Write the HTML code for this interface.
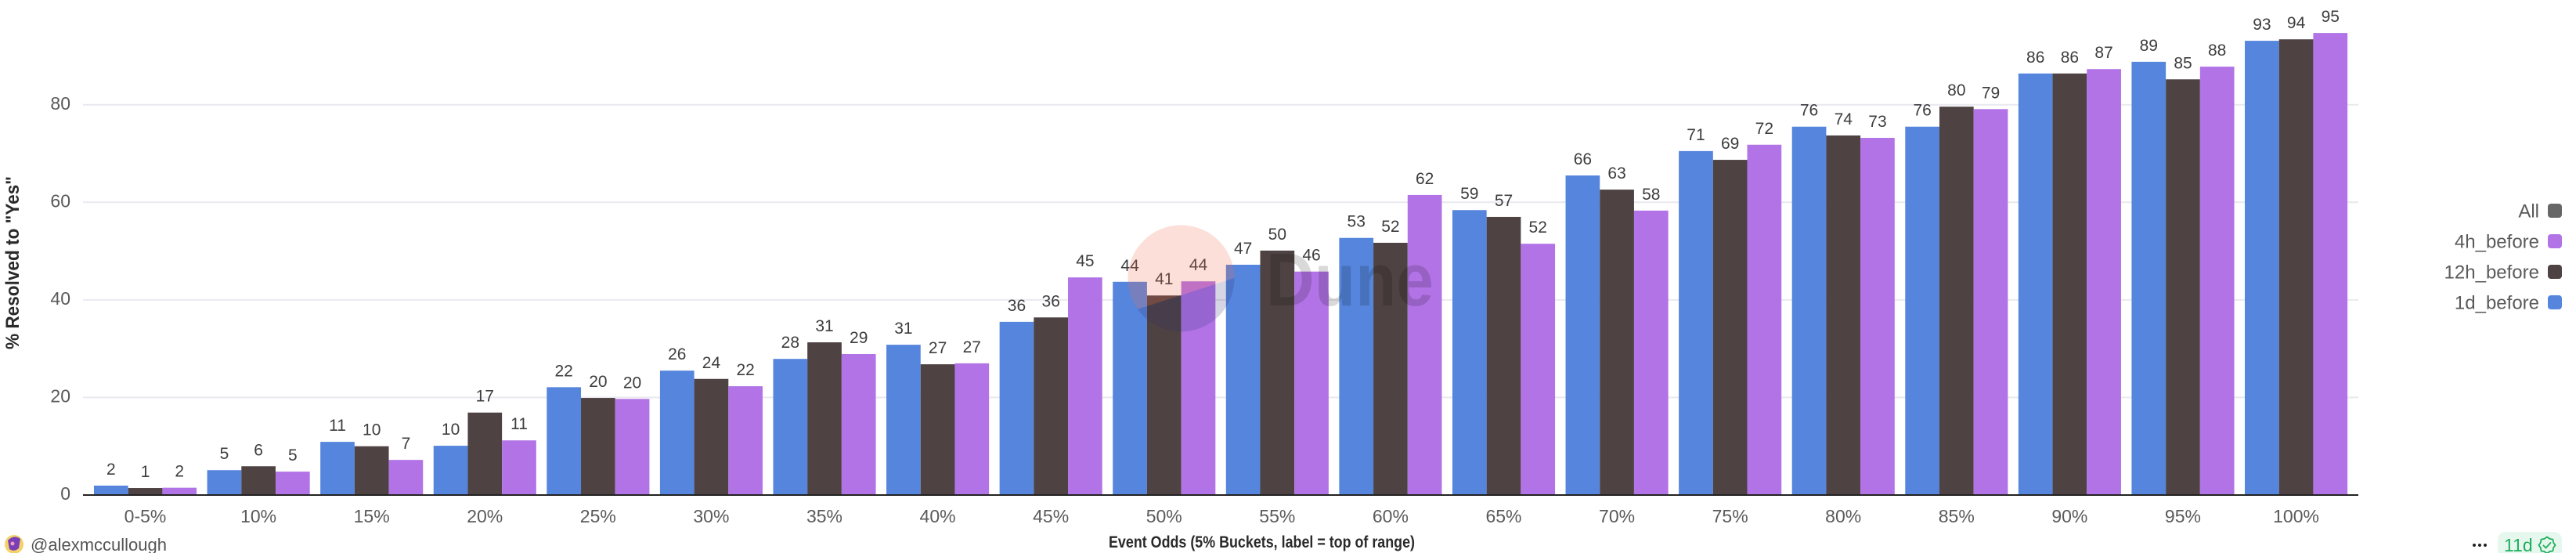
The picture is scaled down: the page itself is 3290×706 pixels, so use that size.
<!DOCTYPE html>
<html><head><meta charset="utf-8"><style>
html,body{margin:0;padding:0;background:#fff;}
svg{display:block;}
text{font-family:"Liberation Sans",sans-serif;}
.b{fill:#5585dd}.d{fill:#4f4242}.p{fill:#b273e6}
.l{font-size:21px;fill:#3d3d3d;text-anchor:middle}
.xt{font-size:23px;fill:#5a5a5a;text-anchor:middle}
.yt{font-size:23px;fill:#5a5a5a;text-anchor:end}
.lg{font-size:24px;fill:#5a5a5a;text-anchor:end}
.g{stroke:#e9e9ef;stroke-width:2}
</style></head><body>
<svg width="3290" height="706" viewBox="0 0 3290 706" xmlns="http://www.w3.org/2000/svg">
<rect width="3290" height="706" fill="#fff"/>
<!-- gridlines -->
<line class="g" x1="106" y1="133.7" x2="3012" y2="133.7"/>
<line class="g" x1="106" y1="258.3" x2="3012" y2="258.3"/>
<line class="g" x1="106" y1="382.9" x2="3012" y2="382.9"/>
<line class="g" x1="106" y1="507.4" x2="3012" y2="507.4"/>
<!-- y ticks -->
<text class="yt" x="90" y="140">80</text>
<text class="yt" x="90" y="264.5">60</text>
<text class="yt" x="90" y="389">40</text>
<text class="yt" x="90" y="513.5">20</text>
<text class="yt" x="90" y="638">0</text>
<!-- y title -->
<text x="24" y="335.5" transform="rotate(-90 24 335.5)" text-anchor="middle" font-size="24" font-weight="bold" fill="#2a2a2a" textLength="221" lengthAdjust="spacingAndGlyphs">% Resolved to "Yes"</text>

<!-- bars -->
<g transform="translate(185.5,0)">
<rect class="b" x="-65.5" y="619.98" width="43.7" height="12.02"/><rect class="d" x="-21.8" y="623.03" width="43.7" height="8.97"/><rect class="p" x="21.9" y="622.66" width="43.7" height="9.34"/>
<text class="l" x="-43.65" y="606">2</text><text class="l" x="0.05" y="609">1</text><text class="l" x="43.75" y="608.7">2</text>
<text class="xt" x="0" y="667">0-5%</text></g>

<g transform="translate(330.08,0)">
<rect class="b" x="-65.5" y="600.23" width="43.7" height="31.77"/><rect class="d" x="-21.8" y="595.25" width="43.7" height="36.75"/><rect class="p" x="21.9" y="602.1" width="43.7" height="29.9"/>
<text class="l" x="-43.65" y="586.2">5</text><text class="l" x="0.05" y="581.3">6</text><text class="l" x="43.75" y="588.1">5</text>
<text class="xt" x="0" y="667">10%</text></g>

<g transform="translate(474.66,0)">
<rect class="b" x="-65.5" y="564.1" width="43.7" height="67.9"/><rect class="d" x="-21.8" y="569.71" width="43.7" height="62.29"/><rect class="p" x="21.9" y="587.15" width="43.7" height="44.85"/>
<text class="l" x="-43.65" y="550.1">11</text><text class="l" x="0.05" y="555.7">10</text><text class="l" x="43.75" y="573.2">7</text>
<text class="xt" x="0" y="667">15%</text></g>

<g transform="translate(619.24,0)">
<rect class="b" x="-65.5" y="569.09" width="43.7" height="62.91"/><rect class="d" x="-21.8" y="526.73" width="43.7" height="105.27"/><rect class="p" x="21.9" y="562.24" width="43.7" height="69.76"/>
<text class="l" x="-43.65" y="555.1">10</text><text class="l" x="0.05" y="512.7">17</text><text class="l" x="43.75" y="548.2">11</text>
<text class="xt" x="0" y="667">20%</text></g>

<g transform="translate(763.82,0)">
<rect class="b" x="-65.5" y="494.34" width="43.7" height="137.66"/><rect class="d" x="-21.8" y="508.04" width="43.7" height="123.96"/><rect class="p" x="21.9" y="509.29" width="43.7" height="122.71"/>
<text class="l" x="-43.65" y="480.3">22</text><text class="l" x="0.05" y="494">20</text><text class="l" x="43.75" y="495.3">20</text>
<text class="xt" x="0" y="667">25%</text></g>

<g transform="translate(908.4,0)">
<rect class="b" x="-65.5" y="473.16" width="43.7" height="158.84"/><rect class="d" x="-21.8" y="483.75" width="43.7" height="148.25"/><rect class="p" x="21.9" y="493.09" width="43.7" height="138.91"/>
<text class="l" x="-43.65" y="459.2">26</text><text class="l" x="0.05" y="469.8">24</text><text class="l" x="43.75" y="479.1">22</text>
<text class="xt" x="0" y="667">30%</text></g>

<g transform="translate(1052.98,0)">
<rect class="b" x="-65.5" y="458.21" width="43.7" height="173.79"/><rect class="d" x="-21.8" y="437.03" width="43.7" height="194.97"/><rect class="p" x="21.9" y="451.98" width="43.7" height="180.02"/>
<text class="l" x="-43.65" y="444.2">28</text><text class="l" x="0.05" y="423">31</text><text class="l" x="43.75" y="438">29</text>
<text class="xt" x="0" y="667">35%</text></g>

<g transform="translate(1197.56,0)">
<rect class="b" x="-65.5" y="440.15" width="43.7" height="191.85"/><rect class="d" x="-21.8" y="465.06" width="43.7" height="166.94"/><rect class="p" x="21.9" y="463.82" width="43.7" height="168.18"/>
<text class="l" x="-43.65" y="426.2">31</text><text class="l" x="0.05" y="451.1">27</text><text class="l" x="43.75" y="449.8">27</text>
<text class="xt" x="0" y="667">40%</text></g>

<g transform="translate(1342.14,0)">
<rect class="b" x="-65.5" y="410.87" width="43.7" height="221.13"/><rect class="d" x="-21.8" y="405.26" width="43.7" height="226.74"/><rect class="p" x="21.9" y="354.19" width="43.7" height="277.81"/>
<text class="l" x="-43.65" y="396.9">36</text><text class="l" x="0.05" y="391.3">36</text><text class="l" x="43.75" y="340.2">45</text>
<text class="xt" x="0" y="667">45%</text></g>

<g transform="translate(1486.72,0)">
<rect class="b" x="-65.5" y="359.79" width="43.7" height="272.21"/><rect class="d" x="-21.8" y="377.23" width="43.7" height="254.77"/><rect class="p" x="21.9" y="359.17" width="43.7" height="272.83"/>
<text class="l" x="-43.65" y="345.8">44</text><text class="l" x="0.05" y="363.2">41</text><text class="l" x="43.75" y="345.2">44</text>
<text class="xt" x="0" y="667">50%</text></g>

<g transform="translate(1631.3,0)">
<rect class="b" x="-65.5" y="337.99" width="43.7" height="294.01"/><rect class="d" x="-21.8" y="319.93" width="43.7" height="312.07"/><rect class="p" x="21.9" y="346.71" width="43.7" height="285.29"/>
<text class="l" x="-43.65" y="324">47</text><text class="l" x="0.05" y="305.9">50</text><text class="l" x="43.75" y="332.7">46</text>
<text class="xt" x="0" y="667">55%</text></g>

<g transform="translate(1775.88,0)">
<rect class="b" x="-65.5" y="303.73" width="43.7" height="328.27"/><rect class="d" x="-21.8" y="309.96" width="43.7" height="322.04"/><rect class="p" x="21.9" y="248.92" width="43.7" height="383.08"/>
<text class="l" x="-43.65" y="289.7">53</text><text class="l" x="0.05" y="296">52</text><text class="l" x="43.75" y="234.9">62</text>
<text class="xt" x="0" y="667">60%</text></g>

<g transform="translate(1920.46,0)">
<rect class="b" x="-65.5" y="268.23" width="43.7" height="363.77"/><rect class="d" x="-21.8" y="276.95" width="43.7" height="355.05"/><rect class="p" x="21.9" y="311.21" width="43.7" height="320.79"/>
<text class="l" x="-43.65" y="254.2">59</text><text class="l" x="0.05" y="263">57</text><text class="l" x="43.75" y="297.2">52</text>
<text class="xt" x="0" y="667">65%</text></g>

<g transform="translate(2065.04,0)">
<rect class="b" x="-65.5" y="224" width="43.7" height="408"/><rect class="d" x="-21.8" y="242.06" width="43.7" height="389.94"/><rect class="p" x="21.9" y="268.85" width="43.7" height="363.15"/>
<text class="l" x="-43.65" y="210">66</text><text class="l" x="0.05" y="228.1">63</text><text class="l" x="43.75" y="254.9">58</text>
<text class="xt" x="0" y="667">70%</text></g>

<g transform="translate(2209.62,0)">
<rect class="b" x="-65.5" y="192.86" width="43.7" height="439.14"/><rect class="d" x="-21.8" y="204.07" width="43.7" height="427.93"/><rect class="p" x="21.9" y="184.76" width="43.7" height="447.24"/>
<text class="l" x="-43.65" y="178.9">71</text><text class="l" x="0.05" y="190.1">69</text><text class="l" x="43.75" y="170.8">72</text>
<text class="xt" x="0" y="667">75%</text></g>

<g transform="translate(2354.2,0)">
<rect class="b" x="-65.5" y="161.71" width="43.7" height="470.29"/><rect class="d" x="-21.8" y="172.92" width="43.7" height="459.08"/><rect class="p" x="21.9" y="176.04" width="43.7" height="455.96"/>
<text class="l" x="-43.65" y="147.7">76</text><text class="l" x="0.05" y="158.9">74</text><text class="l" x="43.75" y="162">73</text>
<text class="xt" x="0" y="667">80%</text></g>

<g transform="translate(2498.78,0)">
<rect class="b" x="-65.5" y="161.71" width="43.7" height="470.29"/><rect class="d" x="-21.8" y="136.17" width="43.7" height="495.83"/><rect class="p" x="21.9" y="139.29" width="43.7" height="492.71"/>
<text class="l" x="-43.65" y="147.7">76</text><text class="l" x="0.05" y="122.2">80</text><text class="l" x="43.75" y="125.3">79</text>
<text class="xt" x="0" y="667">85%</text></g>

<g transform="translate(2643.36,0)">
<rect class="b" x="-65.5" y="93.81" width="43.7" height="538.19"/><rect class="d" x="-21.8" y="93.81" width="43.7" height="538.19"/><rect class="p" x="21.9" y="88.21" width="43.7" height="543.79"/>
<text class="l" x="-43.65" y="79.8">86</text><text class="l" x="0.05" y="79.8">86</text><text class="l" x="43.75" y="74.2">87</text>
<text class="xt" x="0" y="667">90%</text></g>

<g transform="translate(2787.94,0)">
<rect class="b" x="-65.5" y="78.86" width="43.7" height="553.14"/><rect class="d" x="-21.8" y="101.29" width="43.7" height="530.71"/><rect class="p" x="21.9" y="85.09" width="43.7" height="546.91"/>
<text class="l" x="-43.65" y="64.9">89</text><text class="l" x="0.05" y="87.3">85</text><text class="l" x="43.75" y="71.1">88</text>
<text class="xt" x="0" y="667">95%</text></g>

<g transform="translate(2932.52,0)">
<rect class="b" x="-65.5" y="52.08" width="43.7" height="579.92"/><rect class="d" x="-21.8" y="50.21" width="43.7" height="581.79"/><rect class="p" x="21.9" y="42.11" width="43.7" height="589.89"/>
<text class="l" x="-43.65" y="38.1">93</text><text class="l" x="0.05" y="36.2">94</text><text class="l" x="43.75" y="28.1">95</text>
<text class="xt" x="0" y="667">100%</text></g>

<!-- axis line -->
<line x1="106" y1="632" x2="3012" y2="632" stroke="#222" stroke-width="2"/>

<!-- watermark -->
<path d="M1453 394.7 A68 68 0 1 1 1576.5 355 Z" fill="rgba(241,110,78,0.22)"/>
<path d="M1453 394.7 A68 68 0 0 0 1576.5 355 Z" fill="rgba(45,45,115,0.2)"/>
<text x="1617" y="390" font-size="96" font-weight="bold" fill="rgba(0,0,0,0.15)" textLength="214" lengthAdjust="spacingAndGlyphs">Dune</text>

<!-- x title -->
<text x="1416" y="699" font-size="21" font-weight="bold" fill="#2a2a2a" textLength="391" lengthAdjust="spacingAndGlyphs">Event Odds (5% Buckets, label = top of range)</text>

<!-- legend -->
<text class="lg" x="3243" y="277.5">All</text>
<rect x="3254" y="260" width="18" height="18" rx="4" fill="#676767"/>
<text class="lg" x="3243" y="316.5">4h_before</text>
<rect x="3254" y="299" width="18" height="18" rx="4" class="p"/>
<text class="lg" x="3243" y="355.5">12h_before</text>
<rect x="3254" y="338" width="18" height="18" rx="4" class="d"/>
<text class="lg" x="3243" y="394.5">1d_before</text>
<rect x="3254" y="377" width="18" height="18" rx="4" class="b"/>

<!-- footer left -->
<circle cx="18" cy="695" r="12" fill="#f3d26a"/>
<path d="M10 690 Q18 682 26 688 L24 700 Q18 705 12 701 Z" fill="#7a3fb8"/>
<circle cx="16" cy="694" r="2.5" fill="#f0a0b8"/>
<text x="39" y="703" font-size="22" fill="#555">@alexmccullough</text>

<!-- footer right -->
<circle cx="3160" cy="696" r="2" fill="#222"/>
<circle cx="3167" cy="696" r="2" fill="#222"/>
<circle cx="3174" cy="696" r="2" fill="#222"/>
<rect x="3190" y="679" width="82" height="34" rx="10" fill="#e6f8ee"/>
<text x="3198" y="704" font-size="23" fill="#1fae5c">11d</text>
<polygon points="3263.5,696 3261.13,699.37 3260.42,703.42 3256.37,704.13 3253,706.5 3249.63,704.13 3245.58,703.42 3244.87,699.37 3242.5,696 3244.87,692.63 3245.58,688.58 3249.63,687.87 3253,685.5 3256.37,687.87 3260.42,688.58 3261.13,692.63" fill="none" stroke="#1fae5c" stroke-width="1.8" stroke-linejoin="round"/>
<polyline points="3248.5,696.5 3251.5,699.5 3257.5,693" fill="none" stroke="#1fae5c" stroke-width="1.8" stroke-linecap="round" stroke-linejoin="round"/>
</svg>
</body></html>
